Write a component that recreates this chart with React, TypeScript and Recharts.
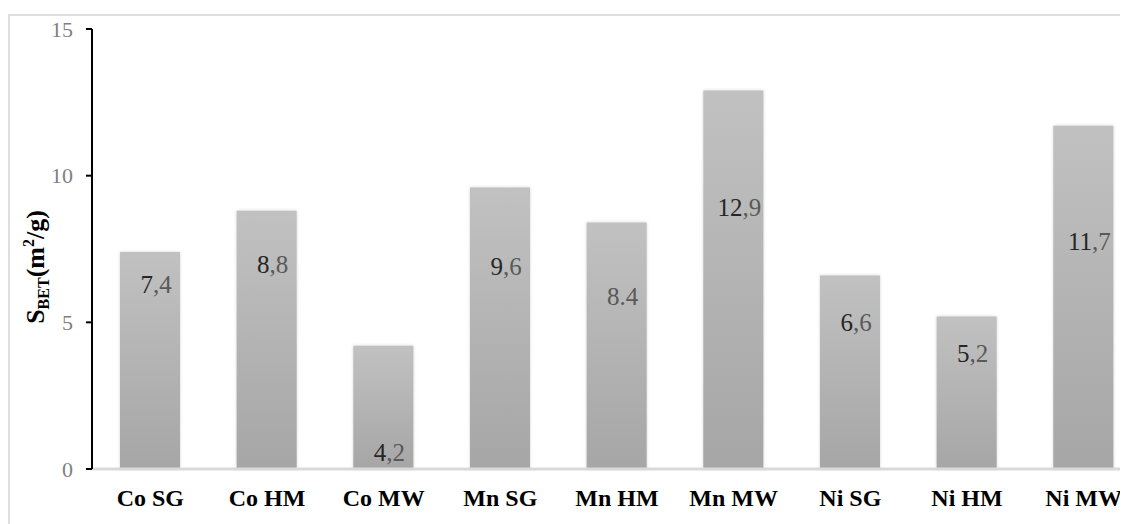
import { BarChart, Bar, XAxis, YAxis, Label } from "recharts";

// surface area per catalyst sample
const samples = ["Co SG", "Co HM", "Co MW", "Mn SG", "Mn HM", "Mn MW", "Ni SG", "Ni HM", "Ni MW"];
const valueLabels = ["7,4", "8,8", "4,2", "9,6", "8.4", "12,9", "6,6", "5,2", "11,7"];
const yTicks = [0, 5, 10, 15];

// label offset below each bar top (px)
const labelDy = [35, 56, 109, 82, 76, 119, 50, 40, 118];

const serif = '"Liberation Serif", "Times New Roman", serif';

const data = samples.map((name, i) => ({
  name,
  label: valueLabels[i],
  value: parseFloat(valueLabels[i].replace(",", ".")),
}));

const renderValue = (props: any) => {
  const { x, y, width, index } = props;
  const text = valueLabels[index];
  const sep = text.search(/[,.]/);
  const head = text.slice(0, sep);
  const tail = text.slice(sep);
  const allGray = text.includes(".");
  return (
    <text
      x={x + width / 2 + 6}
      y={y + labelDy[index]}
      textAnchor="middle"
      dominantBaseline="middle"
      fontFamily={serif}
      fontSize={25}
    >
      <tspan fill={allGray ? "#595959" : "#262626"}>{head}</tspan>
      <tspan fill="#595959">{tail}</tspan>
    </text>
  );
};

const renderYLabel = () => (
  <text
    transform="translate(34, 251) rotate(-90)"
    textAnchor="middle"
    fontFamily={serif}
    fontWeight="bold"
    fill="#000"
  >
    <tspan fontSize={26}>S</tspan>
    <tspan fontSize={16} dy={5}>BET</tspan>
    <tspan fontSize={26} dy={-5}>(m</tspan>
    <tspan fontSize={16} dy={-10}>2</tspan>
    <tspan fontSize={26} dy={10}>/g)</tspan>
  </text>
);

export default function App() {
  return (
    <div
      style={{
        marginTop: 6,
        width: 1118,
        height: 508,
        overflow: "hidden",
        borderTop: "2px solid #dedede",
        borderLeft: "2px solid #dedede",
        background: "#fff",
      }}
    >
      <BarChart
        width={1132}
        height={508}
        data={data}
        margin={{ top: 13, right: 0, bottom: 0, left: 0 }}
      >
        <defs>
          <linearGradient id="barFill" x1="0" y1="0" x2="0" y2="1">
            <stop offset="0%" stopColor="#c1c1c1" />
            <stop offset="100%" stopColor="#a6a6a6" />
          </linearGradient>
          <filter id="barShadow" x="-20%" y="-5%" width="140%" height="110%">
            <feDropShadow dx="0" dy="0" stdDeviation="1.6" floodColor="#9a9a9a" floodOpacity="0.45" />
          </filter>
        </defs>
        <XAxis
          dataKey="name"
          height={55}
          axisLine={{ stroke: "#d9d9d9", strokeWidth: 3 }}
          tickLine={false}
          tickSize={0}
          tickMargin={20}
          interval={0}
          tick={{ fontFamily: serif, fontSize: 24, fontWeight: "bold", fill: "#000" }}
        />
        <YAxis
          width={82}
          domain={[0, 15]}
          ticks={yTicks}
          axisLine={{ stroke: "#000", strokeWidth: 2 }}
          tickLine={{ stroke: "#000", strokeWidth: 2 }}
          tickSize={6}
          tickMargin={13}
          tick={{ fontFamily: serif, fontSize: 22, fill: "#7f7f7f" }}
        >
          <Label content={renderYLabel} />
        </YAxis>
        <Bar
          dataKey="value"
          barSize={60}
          fill="url(#barFill)"
          filter="url(#barShadow)"
          isAnimationActive={false}
          label={renderValue}
        />
      </BarChart>
    </div>
  );
}
